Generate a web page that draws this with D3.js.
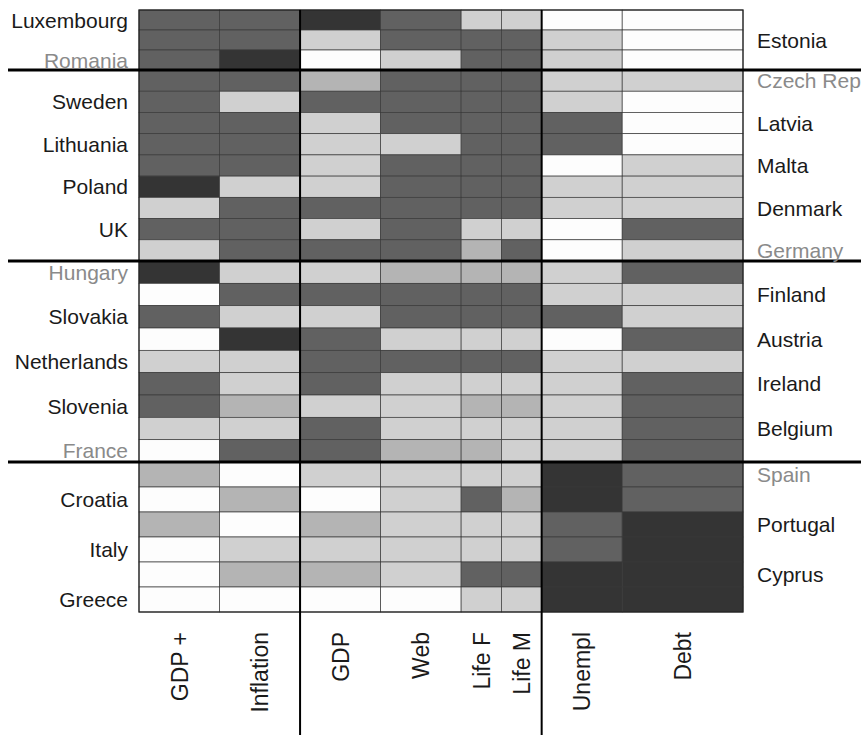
<!DOCTYPE html>
<html>
<head>
<meta charset="utf-8">
<script src="https://cdn.jsdelivr.net/npm/d3@7"></script>
<style>
body { margin: 0; background: #fff; }
text { font-family: "Liberation Sans", Arial, sans-serif; }
</style>
</head>
<body>
<svg id="chart"></svg>
<script>
// rows, top to bottom (labels alternate left / right)
var countries = ["Luxembourg", "Estonia", "Romania",
    "Czech Rep", "Sweden", "Latvia", "Lithuania", "Malta", "Poland", "Denmark", "UK", "Germany",
    "Hungary", "Finland", "Slovakia", "Austria", "Netherlands", "Ireland", "Slovenia", "Belgium", "France",
    "Spain", "Croatia", "Portugal", "Italy", "Cyprus", "Greece"]

var groupSizes = [3, 9, 9, 6]

var columns = ["GDP +", "Inflation", "GDP", "Web", "Life F", "Life M", "Unempl", "Debt"]

// shade level per country: 0 = white ... 4 = black
var gdpPlus   = [3,3,3, 3,3,3,3,3,4,1,3,1, 4,0,3,0,1,3,3,1,0, 2,0,2,0,0,0]
var inflation = [3,3,4, 3,1,3,3,3,1,3,3,3, 1,3,1,4,1,1,2,1,3, 0,2,0,1,2,0]
var gdp       = [4,1,0, 2,3,1,1,1,1,3,1,3, 1,3,1,3,3,3,1,3,3, 1,0,2,1,2,0]
var web       = [3,3,1, 3,3,3,1,3,3,3,3,3, 2,3,3,1,3,1,1,1,2, 1,1,1,1,1,0]
var lifeF     = [1,3,3, 3,3,3,3,3,3,3,1,2, 2,3,3,1,3,1,2,1,2, 1,3,1,1,3,1]
var lifeM     = [1,3,3, 3,3,3,3,3,3,3,1,3, 2,3,3,1,3,1,2,1,1, 1,2,1,1,3,1]
var unempl    = [0,1,1, 1,1,3,3,0,1,1,0,0, 1,1,3,0,1,1,1,1,1, 4,4,3,3,4,4]
var debt      = [0,0,0, 1,0,0,0,1,1,1,3,1, 3,1,1,3,1,3,3,3,3, 3,3,4,4,4,4]

var series = [gdpPlus, inflation, gdp, web, lifeF, lifeM, unempl, debt]

// layout
var screen = { width: 861, height: 740 }
var colUnits = [1, 1, 1, 1, 0.5, 0.5, 1, 1.5]

var colStart = [0]
colUnits.forEach(function (u, i) { colStart.push(colStart[i] + u) })

var rowBreaks = [0]
groupSizes.forEach(function (n, i) { rowBreaks.push(rowBreaks[i] + n) })

var xScale = d3.scaleLinear()
    .domain([0, colStart[colStart.length - 1]])
    .range([139, 743])

// the scan is a little stretched, so each group gets its own span
var yScale = d3.scaleLinear()
    .domain(rowBreaks)
    .range([10, 70, 261, 462, 612])

var shade = d3.scaleLinear()
    .domain([0, 1, 2, 3, 4])
    .range(["#fdfdfd", "#d0d0d0", "#b4b4b4", "#616161", "#343434"])

var svg = d3.select("#chart")
    .attr("width", screen.width)
    .attr("height", screen.height)

var cells = []
countries.forEach(function (c, r) {
    series.forEach(function (s, k) {
        cells.push({ row: r, col: k, level: s[r] })
    })
})

svg.append("g")
    .selectAll("rect")
    .data(cells)
    .enter()
    .append("rect")
    .attr("x", function (d) { return xScale(colStart[d.col]) })
    .attr("y", function (d) { return yScale(d.row) })
    .attr("width", function (d) { return xScale(colStart[d.col + 1]) - xScale(colStart[d.col]) })
    .attr("height", function (d) { return yScale(d.row + 1) - yScale(d.row) })
    .attr("fill", function (d) { return shade(d.level) })
    .attr("stroke", "#3a3a3a")
    .attr("stroke-width", 0.7)

svg.append("rect")
    .attr("x", xScale(0))
    .attr("y", yScale(0))
    .attr("width", xScale.range()[1] - xScale.range()[0])
    .attr("height", yScale(countries.length) - yScale(0))
    .attr("fill", "none")
    .attr("stroke", "#222")
    .attr("stroke-width", 1.2)

// thick separators between groups
var inner = rowBreaks.slice(1, -1)
svg.append("g")
    .selectAll("line")
    .data(inner)
    .enter()
    .append("line")
    .attr("x1", 8)
    .attr("x2", screen.width)
    .attr("y1", function (b) { return yScale(b) })
    .attr("y2", function (b) { return yScale(b) })
    .attr("stroke", "#000")
    .attr("stroke-width", 3)

svg.append("g")
    .selectAll("line")
    .data([2, 6])
    .enter()
    .append("line")
    .attr("x1", function (k) { return xScale(colStart[k]) })
    .attr("x2", function (k) { return xScale(colStart[k]) })
    .attr("y1", yScale(0))
    .attr("y2", 735)
    .attr("stroke", "#000")
    .attr("stroke-width", 2)

// country labels, left and right in turn
var nearBreak = function (r) {
    return inner.indexOf(r) >= 0 || inner.indexOf(r + 1) >= 0
}

svg.append("g")
    .selectAll("text")
    .data(countries)
    .enter()
    .append("text")
    .text(function (c) { return c })
    .attr("x", function (c, r) { return r % 2 == 0 ? 128 : 757 })
    .attr("y", function (c, r) { return (yScale(r) + yScale(r + 1)) / 2 })
    .attr("dy", "0.36em")
    .attr("text-anchor", function (c, r) { return r % 2 == 0 ? "end" : "start" })
    .attr("font-size", 21)
    .attr("fill", function (c, r) { return nearBreak(r) ? "#8a8a8a" : "#1a1a1a" })

// column labels
svg.append("g")
    .selectAll("text")
    .data(columns)
    .enter()
    .append("text")
    .text(function (c) { return c })
    .attr("transform", function (c, k) {
        var cx = (xScale(colStart[k]) + xScale(colStart[k + 1])) / 2
        return "translate(" + cx + ",632) rotate(-90)"
    })
    .attr("dy", "0.36em")
    .attr("text-anchor", "end")
    .attr("font-size", 23)
    .attr("fill", "#1a1a1a")
</script>
</body>
</html>
